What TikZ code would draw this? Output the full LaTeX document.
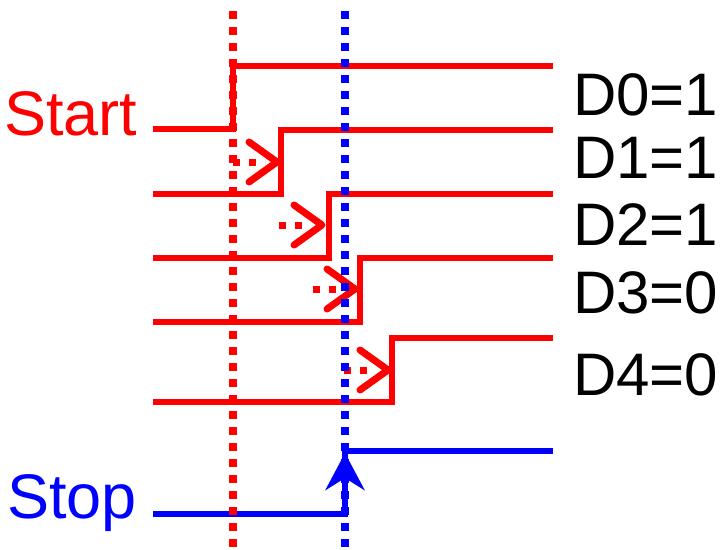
\documentclass[tikz,border=0pt]{standalone}
\usepackage{fontspec}
\setmainfont{Liberation Sans}
\usetikzlibrary{arrows.meta}

\begin{document}
\begin{tikzpicture}[
  x=1pt, y=-1pt,
  font=\fontsize{60}{60}\selectfont,
  sigline/.style={line width=6.5pt, red},
  stopline/.style={sigline, blue},
  markline/.style={line width=7.5pt, dash pattern=on 7.5pt off 8.5pt},
  delayline/.style={line width=7pt, red, dash pattern=on 7pt off 9pt},
  chevron/.style={line width=7pt, red, line cap=round, line join=round},
  sigtext/.style={anchor=base west, inner sep=0pt},
  bigtext/.style={sigtext, font=\fontsize{63}{63}\selectfont}
]
  \useasboundingbox (0,0) rectangle (727,549);

  % labels
  \node[bigtext, text=red] (start) at (4,135) {Start};
  \node[sigtext] (d0) at (573,115) {D0=1};
  \node[sigtext] (d1) at (573,178) {D1=1};
  \node[sigtext] (d2) at (573,245) {D2=1};
  \node[sigtext] (d3) at (573,313) {D3=0};
  \node[sigtext] (d4) at (573,395) {D4=0};
  \node[bigtext, text=blue] (stop) at (7,518) {Stop};

  % Start and the delayed taps
  \foreach \lo/\hi/\ex in {129/66/233, 194/130/281, 258/194/329, 322/258/360, 402/338/392}
    \draw[sigline] (153,\lo) -- (\ex,\lo) -- (\ex,\hi) -- (553,\hi);

  % delay arrows
  \foreach \s/\tx/\ty in {233/277/162, 279/322/225, 313/355/289, 344/388/370} {
    \draw[delayline] (\s,\ty) -- (\tx-12,\ty);
    \draw[chevron] (\tx-28,\ty-20) -- (\tx,\ty) -- (\tx-28,\ty+20);
  }

  % Stop
  \draw[stopline] (153,514) -- (345,514) -- (345,451) -- (553,451);
  \draw[stopline, -{Stealth[length=37pt, width=39pt, inset=12pt]}] (345,514) -- (345,453);

  % sampling instants
  \draw[markline, red] (233,11) -- (233,549);
  \draw[markline, blue] (345,11) -- (345,549);
\end{tikzpicture}
\end{document}
